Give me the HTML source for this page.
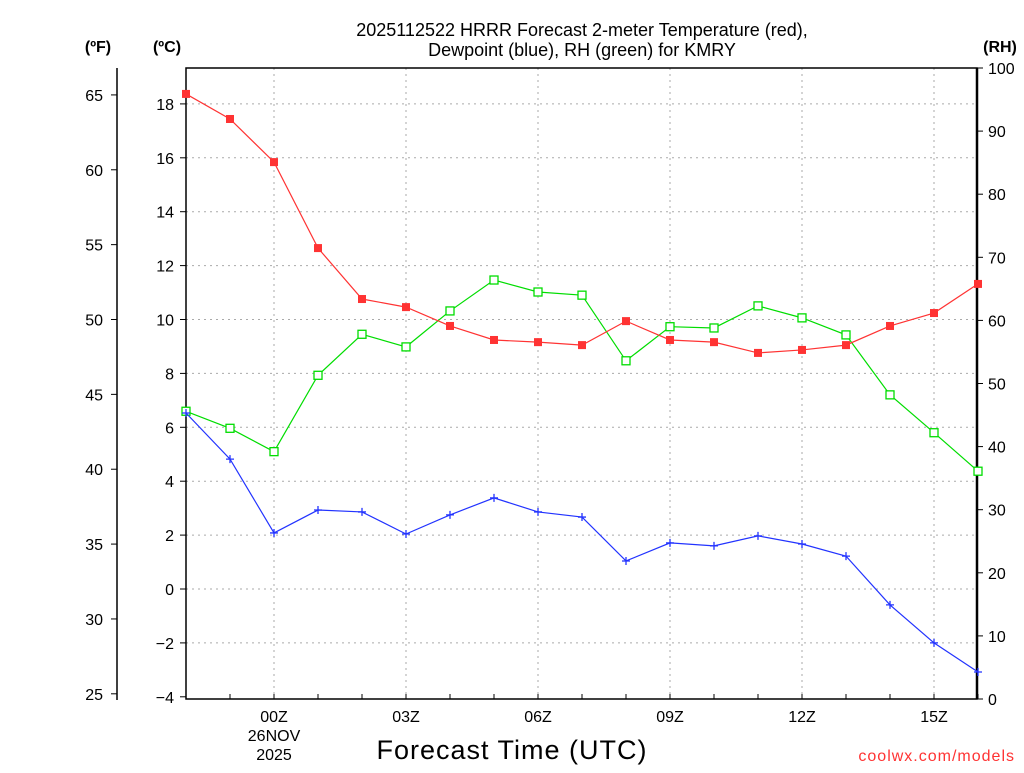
<!DOCTYPE html>
<html><head><meta charset="utf-8"><style>
body{margin:0;background:#fff;width:1024px;height:768px;overflow:hidden}
svg text{font-family:"Liberation Sans",sans-serif;fill:#000}
</style></head><body>
<svg id="chart" width="1024" height="768" viewBox="0 0 1024 768" xmlns="http://www.w3.org/2000/svg">
<g id="g"></g>
</svg>
<script>
const hours = ["22","23","00","01","02","03","04","05","06","07","08","09","10","11","12","13","14","15","16"];
const tempC = [18.37,17.44,15.84,12.65,10.76,10.46,9.76,9.24,9.16,9.05,9.94,9.24,9.16,8.76,8.87,9.05,9.76,10.24,11.32];
const dewC = [6.53,4.82,2.08,2.93,2.86,2.04,2.75,3.38,2.86,2.67,1.04,1.71,1.60,1.97,1.67,1.22,-0.59,-2.00,-3.08];
const rh = [45.6,42.9,39.2,51.3,57.8,55.8,61.5,66.4,64.5,64.0,53.6,59.0,58.8,62.3,60.4,57.7,48.2,42.2,36.1];
const cTicks = [-4,-2,0,2,4,6,8,10,12,14,16,18];
const fTicks = [25,30,35,40,45,50,55,60,65];
const rhTicks = [0,10,20,30,40,50,60,70,80,90,100];
const xLabels = ["00Z","03Z","06Z","09Z","12Z","15Z"];

const L=186,R=977,T=68,B=699;
const xs=i=>L+i*44;
const yC=c=>589-c*26.95;
const yF=f=>yC((f-32)/1.8);
const yRH=v=>B-v*6.31;
const g=document.getElementById('g');
const NS="http://www.w3.org/2000/svg";
function el(t,a,txt){const e=document.createElementNS(NS,t);for(const k in a)e.setAttribute(k,a[k]);if(txt!==undefined)e.textContent=txt;g.appendChild(e);return e;}

// grid
cTicks.forEach(c=>{if(c>-4){const e=el('line',{x1:L,x2:R,y1:yC(c),y2:yC(c),stroke:'#aaa','stroke-dasharray':'2,4'});

}});
xLabels.forEach((lb,k)=>{const x=xs(2+3*k);const e=el('line',{x1:x,x2:x,y1:T,y2:B,stroke:'#aaa','stroke-dasharray':'2,4'});

});

// axes frame
let f=el('rect',{x:L,y:T,width:R-L,height:B-T,fill:'none',stroke:'#000','stroke-width':1.5});


el('line',{x1:R,x2:R,y1:T,y2:B,stroke:'#000','stroke-width':2.5});
el('line',{x1:117,x2:117,y1:68,y2:700,stroke:'#000','stroke-width':1.5});

// C ticks
cTicks.forEach(c=>{const y=yC(c);el('line',{x1:180,x2:L,y1:y,y2:y,stroke:'#000'});
const t=el('text',{x:174,y:y+6,'text-anchor':'end','font-size':16},c<0?'\u2212'+(-c):c);

});
fTicks.forEach(v=>{const y=yF(v);el('line',{x1:111,x2:117,y1:y,y2:y,stroke:'#000'});
const t=el('text',{x:103,y:y+6,'text-anchor':'end','font-size':16},v);

});
rhTicks.forEach(v=>{const y=yRH(v);el('line',{x1:R,x2:R+6,y1:y,y2:y,stroke:'#000'});
const t=el('text',{x:988,y:y+6,'font-size':16},v);

});
hours.forEach((h,i)=>{el('line',{x1:xs(i),x2:xs(i),y1:B,y2:B-5,stroke:'#000'});});
xLabels.forEach((lb,k)=>{const t=el('text',{x:xs(2+3*k),y:722,'text-anchor':'middle','font-size':16},lb);

});

function series(vals,yf,color,name,mark){
 const pts=vals.map((v,i)=>xs(i)+','+yf(v)).join(' ');
 const p=el('polyline',{points:pts,fill:'none',stroke:color,'stroke-width':1.2});
 
 
 vals.forEach((v,i)=>{const x=xs(i),y=yf(v);let m;
  if(mark==='fill')m=el('rect',{x:x-4,y:y-4,width:8,height:8,fill:color});
  else if(mark==='open')m=el('rect',{x:x-4,y:y-4,width:8,height:8,fill:'#fff',stroke:color,'stroke-width':1.3});
  else m=el('path',{d:`M${x-4} ${y}H${x+4}M${x} ${y-4}V${y+4}`,stroke:color,'stroke-width':1.3});
  
  });
}
series(rh,yRH,'#00dd00','rh','open');
series(tempC,yC,'#ff3333','temperature','fill');
series(dewC,yC,'#2233ff','dewpoint','plus');
</script>
<svg style="position:absolute;left:0;top:0" width="1024" height="768">
<text x="582" y="36" text-anchor="middle" font-size="18">2025112522 HRRR Forecast 2-meter Temperature (red),</text>
<text x="582" y="56" text-anchor="middle" font-size="18">Dewpoint (blue), RH (green) for KMRY</text>
<text x="98" y="52" text-anchor="middle" font-size="16" font-weight="bold">(ºF)</text>
<text x="167" y="52" text-anchor="middle" font-size="16" font-weight="bold">(ºC)</text>
<text x="1000" y="52" text-anchor="middle" font-size="16" font-weight="bold">(RH)</text>
<text x="274" y="741" text-anchor="middle" font-size="16">26NOV</text>
<text x="274" y="760" text-anchor="middle" font-size="16">2025</text>
<text x="512" y="759" text-anchor="middle" font-size="27" letter-spacing="1">Forecast Time (UTC)</text>
<text x="1015" y="761" text-anchor="end" font-size="16" fill="#ff3333" style="fill:#ff3333" letter-spacing="1">coolwx.com/models</text>
</svg>
</body></html>
